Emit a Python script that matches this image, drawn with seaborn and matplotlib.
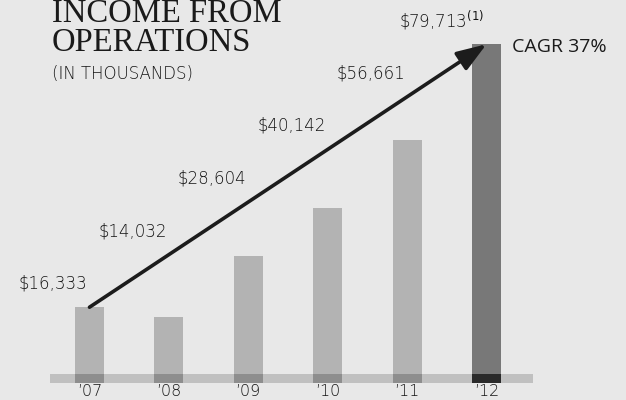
import matplotlib
matplotlib.use("Agg")
import matplotlib.pyplot as plt
import seaborn as sns
import pandas as pd
from matplotlib.patches import Rectangle

# ---- data ----
years = ["\u201907", "\u201908", "\u201909", "\u201910", "\u201911", "\u201912"]
income = [16333, 14032, 28604, 40142, 56661, 79713]
value_labels = ["\\$16,333", "\\$14,032", "\\$28,604", "\\$40,142", "\\$56,661",
                "\\$79,713$^{(1)}$"]
group = ["past", "past", "past", "past", "past", "latest"]

sns.set_theme(style="white")
plt.rcParams["font.family"] = ["DejaVu Sans"]
plt.rcParams["mathtext.fontset"] = "dejavusans"

BG = "#e8e8e8"
BAR_COLORS = {"past": "#b3b3b3", "latest": "#787878"}
BASE_COLORS = {"past": "#8e8e8e", "latest": "#2a2a2a"}
TEXT = "#141414"

fig = plt.figure(figsize=(6.26, 4.0), dpi=100, facecolor=BG)
ax = fig.add_axes([0, 0.04, 1, 0.96])
ax.set_facecolor(BG)

df = pd.DataFrame({"year": years, "income": income, "group": group})
sns.barplot(data=df, x="year", y="income", hue="group", palette=BAR_COLORS,
            dodge=False, width=0.365, saturation=1, legend=False, ax=ax,
            edgecolor="none", zorder=1)

# scale: 0 sits 9 px above axes bottom, 4.15 px per 1000
px_per_unit = 4.15 / 1000
ax.set_ylim(-9 / px_per_unit, (384 - 9) / px_per_unit)
ax.set_xlim(-1.127, 6.757)

depth = 1930      # bars run down into the base band
band_top = 240
# base band
ax.add_patch(Rectangle((-0.497, -depth), 6.08, depth + band_top,
                       facecolor="#c0c0c0", edgecolor="none", zorder=0.5))
bars = list(ax.patches[:len(years)])
for p in bars:
    p.set_y(-depth)
    p.set_height(p.get_height() + depth)
for p, g in zip(bars, group):
    ax.add_patch(Rectangle((p.get_x(), -depth), p.get_width(), depth + band_top,
                           facecolor=BASE_COLORS[g], edgecolor="none", zorder=2))

# CAGR arrow from first to last value
ax.annotate("", xy=(len(years) - 1, income[-1]), xytext=(0, income[0]),
            arrowprops=dict(arrowstyle="-|>,head_length=0.9,head_width=0.32",
                            lw=2.6, color="#1c1c1c", mutation_scale=20,
                            shrinkA=0, shrinkB=0), zorder=5)

# value labels along the arrow
n = len(years)
for i, lab in enumerate(value_labels):
    y_line = income[0] + (income[-1] - income[0]) * i / (n - 1)
    ax.annotate(lab, xy=(i, y_line), xytext=(-1.5, 17), textcoords="offset points",
                ha="right", va="center", fontsize=12, color=TEXT,
                fontweight="light", family=["DejaVu Sans"])

ax.set_xlabel("")
ax.set_ylabel("")
ax.set_yticks([])
ax.tick_params(axis="x", length=0, pad=0, labelsize=11.5, labelcolor=TEXT)
for lab in ax.get_xticklabels():
    lab.set_fontweight("light")
for s in ax.spines.values():
    s.set_visible(False)

# titles
fig.text(52 / 626, 1 - 22.5 / 400, "INCOME FROM", family="Liberation Serif",
         fontsize=23.5, color="#1a1a1a", va="baseline", ha="left")
fig.text(52 / 626, 1 - 51 / 400, "OPERATIONS", family="Liberation Serif",
         fontsize=23.5, color="#1a1a1a", va="baseline", ha="left")
fig.text(52 / 626, 1 - 79 / 400, "(IN THOUSANDS)", family="DejaVu Sans",
         fontsize=12, fontweight="light", color=TEXT, va="baseline", ha="left")
fig.text(512 / 626, 1 - 47 / 400, "CAGR 37%", family="Open Sans",
         fontsize=14, color="#1a1a1a", va="center", ha="left")

fig.savefig("out.png", dpi=100, facecolor=BG)
